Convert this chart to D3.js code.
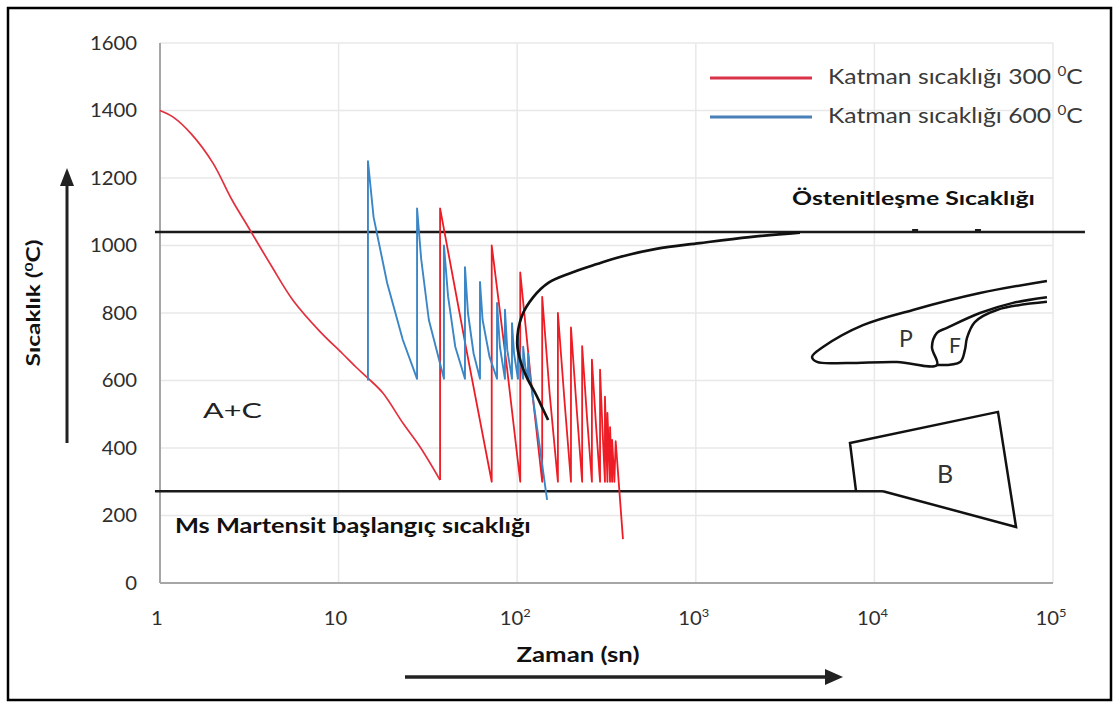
<!DOCTYPE html>
<html>
<head>
<meta charset="utf-8">
<script src="https://cdn.jsdelivr.net/npm/d3@7"></script>
<style>
  html, body { margin: 0; padding: 0; background: #fff; }
  svg { display: block; }
  text { font-family: Lato, "Open Sans", "DejaVu Sans", sans-serif; }
</style>
</head>
<body>
<svg id="chart" width="1119" height="708"></svg>
<script>
// ---------- DATA ----------
const xTickValues = [1, 10, 100, 1000, 10000, 100000];
const xTickBase = ["1", "10", "10", "10", "10", "10"];
const xTickExp  = ["", "", "2", "3", "4", "5"];
const yTickValues = [0, 200, 400, 600, 800, 1000, 1200, 1400, 1600];

const legendLabels = ["Katman sıcaklığı 300 ", "Katman sıcaklığı 600 "];

// Red: layer temperature 300 °C  [time s, temperature °C]
const redCooling = [
  [1,1400],[1.18,1381],[1.5,1330],[1.98,1244],[2.5,1140],[3.19,1046],[4.2,940],[5.55,838],
  [7.87,745],[10.5,680],[12.5,640],[14.6,607],[17.7,563],[22.9,474],[28.6,403],[37,305]
];
const redCycles = [
  [37,305],[37,1110],[52,690],[72,300],
  [72,1000],[88,630],[104,300],
  [104,920],[120,590],[138,300],
  [138,848],[152,560],[169,300],
  [169,800],[184,540],[200,300],
  [200,757],[215,520],[231,300],
  [231,702],[246,490],[262,300],
  [262,662],[276,470],[291,300],
  [291,632],[300,460],[310,300],
  [310,552],[320,300],
  [320,504],[331,300],
  [331,462],[340,300],
  [340,424],[350,300],
  [356,420],[391,130]
];

// Blue: layer temperature 600 °C
const blueSeries = [
  [14.6,600],[14.6,1250],[15.7,1084],[18.7,889],[22.9,720],[27.5,605],
  [27.5,1110],[29,960],[32,780],[38.9,605],
  [38.9,1000],[41,850],[45,700],[51,605],
  [51,936],[53,800],[57,680],[61.9,605],
  [61.9,892],[64,780],[70,670],[77.1,605],
  [77.1,830],[80,700],[85.4,605],
  [85.4,810],[88,690],[93.5,605],
  [93.5,770],[96,680],[101,605],
  [101,740],[104,660],[108,605],
  [108,700],[111,640],[115,605],
  [115,680],[118,610],[147,246]
];

// Black "nose" curve (transformation start)
const noseCurve = [
  [149,483],[138,520],[127,560],[113,610],[104,660],[100,711],[106,790],[123,847],
  [150,890],[198,918],[280,945],[376,966],[600,990],[1050,1007],[2000,1025],[3830,1038]
];

// Pearlite / Ferrite region outlines
const pearliteOutline = [
  [92500,895],[39000,859],[16440,809],[8630,764],[5152,699],[4477,670],
  [4775,655],[7030,652],[13400,655],[22400,646],
  [21000,699],[22400,741],[25500,756],[39000,800],[59700,830],[92500,847]
];
const ferriteOutline = [
  [22400,646],[30200,655],[32100,690],[33000,726],[36500,773],[48500,809],[92500,833]
];
// Bainite region
const bainiteOutline = [
  [7890,272],[7300,415],[49200,507],[62100,166],[11170,272]
];

// Reference lines
const austeniteTemp = 1040;
const austeniteRange = [0.937, 151000];
const msTemp = 272;
const msRange = [0.937, 11170];
const austeniteMarks = [16900, 38000];

// ---------- CHART ----------
const svg = d3.select("#chart");
const x = d3.scaleLog().domain([1, 100000]).range([160, 1053]);
const y = d3.scaleLinear().domain([0, 1600]).range([583, 43]);

// text helper: draws real text, stretched horizontally to a target width
function label(px, py, parts, o) {
  const g = svg.append("g").attr("transform", `translate(${px},${py})` + (o.rotate ? ` rotate(${o.rotate})` : ""));
  const t = g.append("text").attr("x", 0).attr("y", 0)
    .attr("text-anchor", o.anchor || "start")
    .attr("font-size", o.size).attr("font-weight", o.weight || 400)
    .attr("fill", o.fill || "#222");
  if (o.dy) t.attr("dy", o.dy);
  parts.forEach(p => {
    if (typeof p === "string") t.append("tspan").text(p);
    else t.append("tspan").attr("font-size", p.size).attr("dy", p.dy).text(p.text);
  });
  if (o.width) {
    const w = t.node().getComputedTextLength();
    if (w > 0) t.attr("transform", `scale(${o.width / w},1)`);
  } else if (o.sx) {
    t.attr("transform", `scale(${o.sx},1)`);
  }
  return t;
}

// outer border
svg.append("rect").attr("x", 8).attr("y", 8).attr("width", 1103).attr("height", 692)
  .attr("fill", "#fff").attr("stroke", "#000").attr("stroke-width", 2.5);

// gridlines
const grid = svg.append("g");
grid.selectAll("line.h").data(yTickValues.filter(d => d > 0)).join("line")
  .attr("x1", x(1)).attr("x2", x(100000))
  .attr("y1", d => y(d)).attr("y2", d => y(d))
  .attr("stroke", "#e8e8e8").attr("stroke-width", 1.5);
grid.selectAll("line.v").data(xTickValues.slice(1)).join("line")
  .attr("x1", d => x(d)).attr("x2", d => x(d))
  .attr("y1", y(0)).attr("y2", y(1600))
  .attr("stroke", "#e8e8e8").attr("stroke-width", 1.5);

// axes lines
svg.append("line").attr("x1", x(1)).attr("x2", x(1)).attr("y1", y(0)).attr("y2", y(1600))
  .attr("stroke", "#a6a6a6").attr("stroke-width", 2);
svg.append("line").attr("x1", x(1)).attr("x2", x(100000)).attr("y1", y(0)).attr("y2", y(0))
  .attr("stroke", "#a6a6a6").attr("stroke-width", 2);

// y tick labels
yTickValues.forEach(v => {
  label(137, y(v), [String(v)], { anchor: "end", size: 19, fill: "#2e2e2e", dy: "0.35em", sx: 1.07 });
});
// x tick labels
xTickValues.forEach((v, i) => {
  const parts = [xTickBase[i]];
  if (xTickExp[i]) parts.push({ text: xTickExp[i], size: 12, dy: -8 });
  label(x(v) - (xTickExp[i] ? 2 : 3), 625, parts, { anchor: "middle", size: 19, fill: "#2e2e2e", sx: 1.07 });
});

const line = d3.line().x(d => x(d[0])).y(d => y(d[1]));
const cr = d3.line().x(d => x(d[0])).y(d => y(d[1])).curve(d3.curveCatmullRom);

// reference lines
svg.append("line").attr("x1", x(austeniteRange[0])).attr("x2", x(austeniteRange[1]))
  .attr("y1", y(austeniteTemp)).attr("y2", y(austeniteTemp))
  .attr("stroke", "#1a1a1a").attr("stroke-width", 2.6);
svg.append("line").attr("x1", x(msRange[0])).attr("x2", x(msRange[1]))
  .attr("y1", y(msTemp)).attr("y2", y(msTemp))
  .attr("stroke", "#1a1a1a").attr("stroke-width", 2.6);
svg.append("g").selectAll("rect").data(austeniteMarks).join("rect")
  .attr("x", d => x(d) - 3).attr("y", y(austeniteTemp) - 3).attr("width", 6).attr("height", 3)
  .attr("fill", "#1a1a1a");

// series
svg.append("path").datum(redCooling).attr("d", cr)
  .attr("fill", "none").attr("stroke", "#e2303e").attr("stroke-width", 1.7);
svg.append("path").datum(redCycles).attr("d", line)
  .attr("fill", "none").attr("stroke", "#ee1c24").attr("stroke-width", 1.8).attr("stroke-linejoin", "round");
svg.append("path").datum(blueSeries).attr("d", line)
  .attr("fill", "none").attr("stroke", "#3b86c6").attr("stroke-width", 1.9).attr("stroke-linejoin", "round");

// nose curve
svg.append("path").datum(noseCurve).attr("d", cr)
  .attr("fill", "none").attr("stroke", "#111").attr("stroke-width", 2.7);

// P / F regions
svg.append("path").datum(pearliteOutline).attr("d", cr)
  .attr("fill", "none").attr("stroke", "#111").attr("stroke-width", 2.5);
svg.append("path").datum(ferriteOutline).attr("d", cr)
  .attr("fill", "none").attr("stroke", "#111").attr("stroke-width", 2.5);
// B region
svg.append("path").datum(bainiteOutline).attr("d", line)
  .attr("fill", "none").attr("stroke", "#111").attr("stroke-width", 2.5).attr("stroke-linejoin", "miter");

// region labels
label(906, 347, ["P"], { anchor: "middle", size: 23, fill: "#333" });
label(955, 353, ["F"], { anchor: "middle", size: 21, fill: "#333" });
label(945, 483, ["B"], { anchor: "middle", size: 25, fill: "#333" });
label(203, 418, ["A+C"], { size: 22, fill: "#222", width: 59 });

// annotations
label(792, 205, ["Östenitleşme Sıcaklığı"], { size: 19, weight: 700, fill: "#111", width: 243 });
label(175, 533, ["Ms Martensit başlangıç sıcaklığı"], { size: 20, weight: 700, fill: "#111", width: 356 });

// legend
const legendColors = ["#d9334a", "#4a80b8"];
legendLabels.forEach((d, i) => {
  svg.append("line").attr("x1", 710).attr("x2", 812)
    .attr("y1", 78 + i * 39).attr("y2", 78 + i * 39)
    .attr("stroke", legendColors[i]).attr("stroke-width", 3);
  label(828, 84 + i * 39, [d, { text: "0", size: 13, dy: -8 }, { text: "C", size: 21, dy: 8 }],
    { size: 21, fill: "#3a3a3a", width: 255 });
});

// axis titles
label(40, 303, ["Sıcaklık (", { text: "0", size: 12, dy: -7 }, { text: "C)", size: 19, dy: 7 }],
  { anchor: "middle", size: 19, weight: 700, fill: "#111", rotate: -90, width: 127 });
label(578, 662, ["Zaman (sn)"], { anchor: "middle", size: 20, weight: 700, fill: "#111", width: 123 });

// arrows
svg.append("line").attr("x1", 67).attr("x2", 67).attr("y1", 443).attr("y2", 182)
  .attr("stroke", "#222").attr("stroke-width", 3);
svg.append("path").attr("d", "M67,168 L60,186 L74,186 Z").attr("fill", "#222");
svg.append("line").attr("x1", 405).attr("x2", 828).attr("y1", 677).attr("y2", 677)
  .attr("stroke", "#222").attr("stroke-width", 3.5);
svg.append("path").attr("d", "M843,677 L825,669 L825,685 Z").attr("fill", "#222");
</script>
</body>
</html>
